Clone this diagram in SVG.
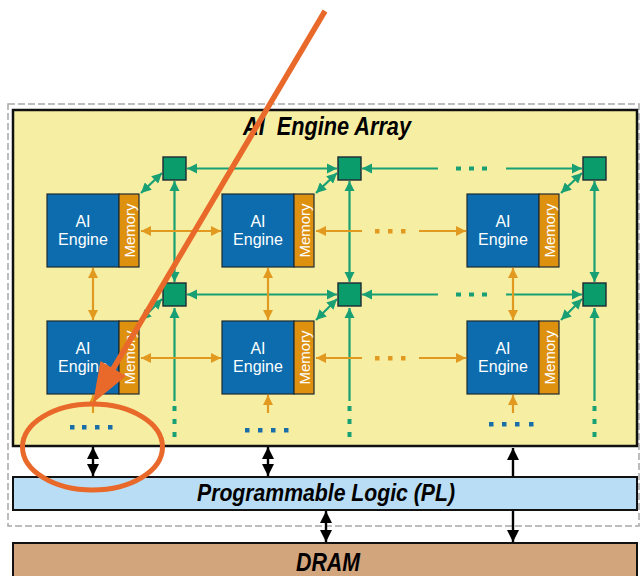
<svg xmlns="http://www.w3.org/2000/svg" width="641" height="576" viewBox="0 0 641 576">
<style>
.blue{fill:#0c6cae;stroke:#1d2a33;stroke-width:1.2}
.mem{fill:#de900f;stroke:#1d2a33;stroke-width:1.2}
.sw{fill:#0a9c6b;stroke:#1d2a33;stroke-width:1.4}
.eng{font-family:"Liberation Sans",Arial,sans-serif;font-size:16px;fill:#fff;text-anchor:middle}
.memt{font-family:"Liberation Sans",Arial,sans-serif;font-size:15px;fill:#fff;text-anchor:middle}
.big{font-family:"Liberation Sans",Arial,sans-serif;font-weight:bold;font-style:italic;fill:#000}
.g{stroke:#18a074;stroke-width:2.2;fill:none}
.o{stroke:#e2991f;stroke-width:2.2;fill:none}
.k{stroke:#000;stroke-width:2.4;fill:none}
.gd{fill:#18a074}
.od{fill:#e2991f}
.bd{fill:#1a6ea8}
</style>
<defs>
<marker id="ag" viewBox="0 0 10 10" refX="10" refY="5" markerWidth="4.6" markerHeight="4.6" orient="auto-start-reverse" markerUnits="strokeWidth"><path d="M0,0L10,5L0,10Z" fill="#18a074"/></marker>
<marker id="ao" viewBox="0 0 10 10" refX="10" refY="5" markerWidth="4.6" markerHeight="4.6" orient="auto-start-reverse" markerUnits="strokeWidth"><path d="M0,0L10,5L0,10Z" fill="#e2991f"/></marker>
<marker id="ak" viewBox="0 0 10 10" refX="10" refY="5" markerWidth="5" markerHeight="5.6" orient="auto-start-reverse" markerUnits="strokeWidth"><path d="M0,0L10,5L0,10Z" fill="#000"/></marker>
</defs>
<rect width="641" height="576" fill="#fff"/>
<rect x="8" y="104" width="631" height="422" fill="none" stroke="#a8a8a8" stroke-width="1.5" stroke-dasharray="7,3"/>
<g id="array">
<rect x="13" y="110" width="624" height="336" fill="#f6efa3" stroke="#111" stroke-width="2.5"/>
<text class="big" x="243" y="135" font-size="25" textLength="168" lengthAdjust="spacingAndGlyphs" xml:space="preserve">AI  Engine Array</text>
</g>
<g id="connectors">
<line class="g" x1="174.5" y1="181" x2="174.5" y2="282" marker-start="url(#ag)" marker-end="url(#ag)"/>
<line class="g" x1="349.5" y1="181" x2="349.5" y2="282" marker-start="url(#ag)" marker-end="url(#ag)"/>
<line class="g" x1="594.5" y1="181" x2="594.5" y2="282" marker-start="url(#ag)" marker-end="url(#ag)"/>
<line class="g" x1="174.5" y1="308" x2="174.5" y2="401" marker-start="url(#ag)"/>
<line class="g" x1="349.5" y1="308" x2="349.5" y2="401" marker-start="url(#ag)"/>
<line class="g" x1="594.5" y1="308" x2="594.5" y2="401" marker-start="url(#ag)"/>
<g class="gd">
<rect x="172.5" y="406" width="4" height="5"/><rect x="172.5" y="419" width="4" height="5"/><rect x="172.5" y="432" width="4" height="5"/>
<rect x="347.5" y="406" width="4" height="5"/><rect x="347.5" y="419" width="4" height="5"/><rect x="347.5" y="432" width="4" height="5"/>
<rect x="592.5" y="406" width="4" height="5"/><rect x="592.5" y="419" width="4" height="5"/><rect x="592.5" y="432" width="4" height="5"/>
</g>
<line class="g" x1="187" y1="168.5" x2="337" y2="168.5" marker-start="url(#ag)" marker-end="url(#ag)"/>
<line class="g" x1="362" y1="168.5" x2="438" y2="168.5" marker-start="url(#ag)"/>
<line class="g" x1="506" y1="168.5" x2="582" y2="168.5" marker-end="url(#ag)"/>
<line class="g" x1="187" y1="294.5" x2="337" y2="294.5" marker-start="url(#ag)" marker-end="url(#ag)"/>
<line class="g" x1="362" y1="294.5" x2="438" y2="294.5" marker-start="url(#ag)"/>
<line class="g" x1="506" y1="294.5" x2="582" y2="294.5" marker-end="url(#ag)"/>
<g class="gd">
<rect x="456" y="166.5" width="5" height="4"/><rect x="469" y="166.5" width="5" height="4"/><rect x="482" y="166.5" width="5" height="4"/>
<rect x="456" y="292.5" width="5" height="4"/><rect x="469" y="292.5" width="5" height="4"/><rect x="482" y="292.5" width="5" height="4"/>
</g>
<line class="g" x1="141" y1="193" x2="162" y2="173" marker-start="url(#ag)" marker-end="url(#ag)"/>
<line class="g" x1="316" y1="193" x2="337" y2="173" marker-start="url(#ag)" marker-end="url(#ag)"/>
<line class="g" x1="561" y1="193" x2="582" y2="173" marker-start="url(#ag)" marker-end="url(#ag)"/>
<line class="g" x1="141" y1="320" x2="162" y2="299" marker-start="url(#ag)" marker-end="url(#ag)"/>
<line class="g" x1="316" y1="320" x2="337" y2="299" marker-start="url(#ag)" marker-end="url(#ag)"/>
<line class="g" x1="561" y1="320" x2="582" y2="299" marker-start="url(#ag)" marker-end="url(#ag)"/>
<line class="o" x1="141" y1="231" x2="221" y2="231" marker-start="url(#ao)" marker-end="url(#ao)"/>
<line class="o" x1="316" y1="231" x2="362" y2="231" marker-start="url(#ao)"/>
<line class="o" x1="419" y1="231" x2="466" y2="231" marker-end="url(#ao)"/>
<line class="o" x1="141" y1="358" x2="221" y2="358" marker-start="url(#ao)" marker-end="url(#ao)"/>
<line class="o" x1="316" y1="358" x2="362" y2="358" marker-start="url(#ao)"/>
<line class="o" x1="419" y1="358" x2="466" y2="358" marker-end="url(#ao)"/>
<g class="od">
<rect x="375" y="229" width="4.5" height="4.5"/><rect x="388" y="229" width="4.5" height="4.5"/><rect x="401" y="229" width="4.5" height="4.5"/>
<rect x="375" y="356" width="4.5" height="4.5"/><rect x="388" y="356" width="4.5" height="4.5"/><rect x="401" y="356" width="4.5" height="4.5"/>
</g>
<line class="o" x1="93" y1="268" x2="93" y2="320" marker-start="url(#ao)" marker-end="url(#ao)"/>
<line class="o" x1="268" y1="268" x2="268" y2="320" marker-start="url(#ao)" marker-end="url(#ao)"/>
<line class="o" x1="513" y1="268" x2="513" y2="320" marker-start="url(#ao)" marker-end="url(#ao)"/>
<line class="o" x1="93" y1="413" x2="93" y2="395" marker-end="url(#ao)"/>
<line class="o" x1="268" y1="413" x2="268" y2="395" marker-end="url(#ao)"/>
<line class="o" x1="513" y1="413" x2="513" y2="395" marker-end="url(#ao)"/>
<g class="bd">
<rect x="70" y="425" width="4.5" height="4.5"/><rect x="82" y="425" width="4.5" height="4.5"/><rect x="95" y="425" width="4.5" height="4.5"/><rect x="108" y="425" width="4.5" height="4.5"/>
<rect x="245" y="428" width="4.5" height="4.5"/><rect x="258" y="428" width="4.5" height="4.5"/><rect x="271" y="428" width="4.5" height="4.5"/><rect x="284" y="428" width="4.5" height="4.5"/>
<rect x="489" y="422" width="4.5" height="4.5"/><rect x="502" y="422" width="4.5" height="4.5"/><rect x="515" y="422" width="4.5" height="4.5"/><rect x="529" y="422" width="4.5" height="4.5"/>
</g>
<line class="k" x1="93" y1="447" x2="93" y2="476" marker-start="url(#ak)" marker-end="url(#ak)"/>
<line class="k" x1="268" y1="447" x2="268" y2="476" marker-start="url(#ak)" marker-end="url(#ak)"/>
<line class="k" x1="513" y1="476" x2="513" y2="448" marker-end="url(#ak)"/>
<line class="k" x1="326" y1="511" x2="326" y2="542" marker-start="url(#ak)" marker-end="url(#ak)"/>
<line class="k" x1="513" y1="511" x2="513" y2="542" marker-end="url(#ak)"/>
</g>
<g id="sw-1-1"><rect class="sw" x="163" y="157" width="23" height="23"/></g>
<g id="sw-1-2"><rect class="sw" x="338" y="157" width="23" height="23"/></g>
<g id="sw-1-3"><rect class="sw" x="583" y="157" width="23" height="23"/></g>
<g id="sw-2-1"><rect class="sw" x="163" y="283" width="23" height="23"/></g>
<g id="sw-2-2"><rect class="sw" x="338" y="283" width="23" height="23"/></g>
<g id="sw-2-3"><rect class="sw" x="583" y="283" width="23" height="23"/></g>
<g id="ae-1-1"><rect class="blue" x="47" y="194" width="72" height="73"/><rect class="mem" x="119" y="194" width="20" height="73"/><text class="eng" x="83" y="226.5">AI</text><text class="eng" x="83" y="244.5">Engine</text><text class="memt" transform="translate(134.5,230.5) rotate(-90)">Memory</text></g>
<g id="ae-1-2"><rect class="blue" x="222" y="194" width="72" height="73"/><rect class="mem" x="294" y="194" width="20" height="73"/><text class="eng" x="258" y="226.5">AI</text><text class="eng" x="258" y="244.5">Engine</text><text class="memt" transform="translate(309.5,230.5) rotate(-90)">Memory</text></g>
<g id="ae-1-3"><rect class="blue" x="467" y="194" width="72" height="73"/><rect class="mem" x="539" y="194" width="20" height="73"/><text class="eng" x="503" y="226.5">AI</text><text class="eng" x="503" y="244.5">Engine</text><text class="memt" transform="translate(554.5,230.5) rotate(-90)">Memory</text></g>
<g id="ae-2-1"><rect class="blue" x="47" y="321" width="72" height="73"/><rect class="mem" x="119" y="321" width="20" height="73"/><text class="eng" x="83" y="353.5">AI</text><text class="eng" x="83" y="371.5">Engine</text><text class="memt" transform="translate(134.5,357.5) rotate(-90)">Memory</text></g>
<g id="ae-2-2"><rect class="blue" x="222" y="321" width="72" height="73"/><rect class="mem" x="294" y="321" width="20" height="73"/><text class="eng" x="258" y="353.5">AI</text><text class="eng" x="258" y="371.5">Engine</text><text class="memt" transform="translate(309.5,357.5) rotate(-90)">Memory</text></g>
<g id="ae-2-3"><rect class="blue" x="467" y="321" width="72" height="73"/><rect class="mem" x="539" y="321" width="20" height="73"/><text class="eng" x="503" y="353.5">AI</text><text class="eng" x="503" y="371.5">Engine</text><text class="memt" transform="translate(554.5,357.5) rotate(-90)">Memory</text></g>
<g id="pl"><rect x="13" y="477" width="624" height="33" fill="#b9ddf4" stroke="#111" stroke-width="2"/><text class="big" x="197" y="501" font-size="24" textLength="258" lengthAdjust="spacingAndGlyphs">Programmable Logic (PL)</text></g>
<g id="dram"><rect x="13" y="543" width="624" height="40" fill="#d3a57c" stroke="#111" stroke-width="2"/><text class="big" x="296" y="571" font-size="25" textLength="64" lengthAdjust="spacingAndGlyphs">DRAM</text></g>
<g id="annotation">
<line x1="325" y1="11" x2="113" y2="369" stroke="#e9692b" stroke-width="5.5"/>
<path d="M93,403L100.5,361L126,376Z" fill="#e9692b"/>
<ellipse cx="92.5" cy="447" rx="70" ry="43" fill="none" stroke="#e9692b" stroke-width="5"/>
</g>
</svg>
